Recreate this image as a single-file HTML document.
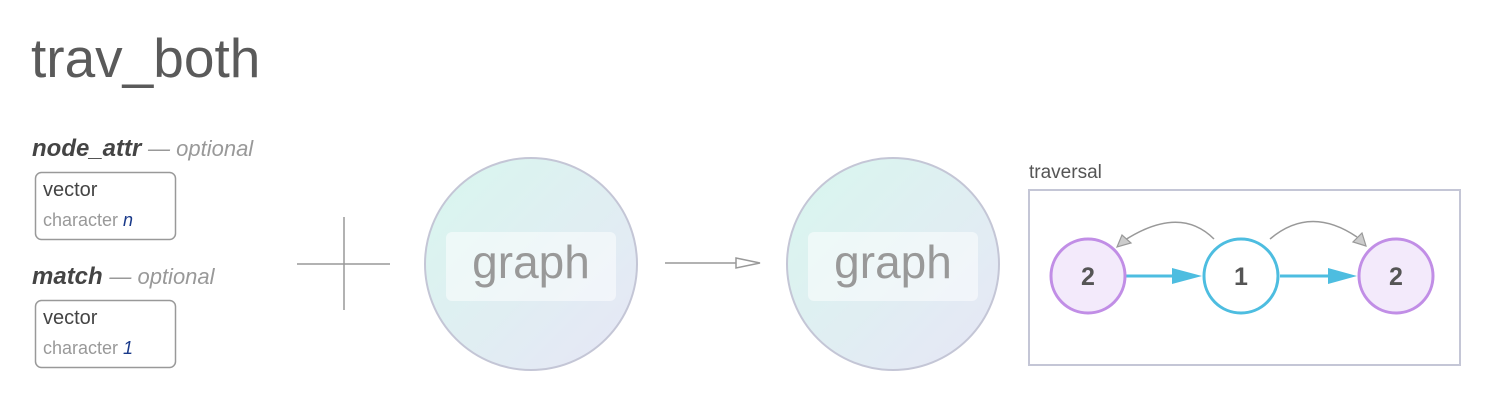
<!DOCTYPE html>
<html><head><meta charset="utf-8"><style>
body{margin:0;background:#fff;width:1510px;height:400px;overflow:hidden;font-family:"Liberation Sans",sans-serif}
</style></head><body>
<svg width="1510" height="400" xmlns="http://www.w3.org/2000/svg" font-family="Liberation Sans, sans-serif">
<defs>
<linearGradient id="g" x1="0" y1="0" x2="1" y2="1">
<stop offset="0" stop-color="#d8f7ee"/><stop offset="1" stop-color="#e7e6f6"/>
</linearGradient>
</defs>
<text x="31" y="77" font-size="55" fill="#5a5a5a">trav_both</text>

<text x="32" y="156" font-size="24" font-style="italic" font-weight="bold" fill="#444">node_attr <tspan fill="#999" font-size="22" font-weight="normal">— optional</tspan></text>
<rect x="35.5" y="172.5" width="140" height="67" rx="6" fill="#fff" stroke="#999" stroke-width="1.5"/>
<text x="43" y="196" font-size="20" fill="#444">vector</text>
<text x="43" y="226" font-size="18" fill="#999">character <tspan fill="#1a3a8a" font-style="italic">n</tspan></text>

<text x="32" y="284" font-size="24" font-style="italic" font-weight="bold" fill="#444">match <tspan fill="#999" font-size="22" font-weight="normal">— optional</tspan></text>
<rect x="35.5" y="300.5" width="140" height="67" rx="6" fill="#fff" stroke="#999" stroke-width="1.5"/>
<text x="43" y="324" font-size="20" fill="#444">vector</text>
<text x="43" y="354" font-size="18" fill="#999">character <tspan fill="#1a3a8a" font-style="italic">1</tspan></text>

<line x1="297" y1="264" x2="390" y2="264" stroke="#999" stroke-width="1.5"/>
<line x1="344" y1="217" x2="344" y2="310" stroke="#999" stroke-width="1.5"/>

<circle cx="531" cy="264" r="106" fill="url(#g)" stroke="#c4c6d6" stroke-width="2"/>
<rect x="446" y="232" width="170" height="69" rx="6" fill="#fff" fill-opacity="0.5"/>
<text x="531" y="278" font-size="46" fill="#999" text-anchor="middle">graph</text>

<line x1="665" y1="263" x2="740" y2="263" stroke="#999" stroke-width="1.5"/>
<polygon points="736,258 760,263 736,268" fill="#fff" stroke="#999" stroke-width="1.5"/>

<circle cx="893" cy="264" r="106" fill="url(#g)" stroke="#c4c6d6" stroke-width="2"/>
<rect x="808" y="232" width="170" height="69" rx="6" fill="#fff" fill-opacity="0.5"/>
<text x="893" y="278" font-size="46" fill="#999" text-anchor="middle">graph</text>

<text x="1029" y="178" font-size="19" fill="#555">traversal</text>
<rect x="1029" y="190" width="431" height="175" fill="#fff" stroke="#c4c6d6" stroke-width="2"/>

<path d="M1214 239 Q1180 205 1125 240" fill="none" stroke="#999" stroke-width="1.5"/>
<polygon points="1117,247 1122,235 1131,243" fill="#ccc" stroke="#999" stroke-width="1.2"/>
<path d="M1270 239 Q1310 205 1357 237" fill="none" stroke="#999" stroke-width="1.5"/>
<polygon points="1366,246 1353,242 1362,233" fill="#ccc" stroke="#999" stroke-width="1.2"/>

<line x1="1126" y1="276" x2="1180" y2="276" stroke="#4dbde0" stroke-width="3"/>
<polygon points="1172,268 1202,276 1172,284" fill="#4dbde0"/>
<line x1="1280" y1="276" x2="1335" y2="276" stroke="#4dbde0" stroke-width="3"/>
<polygon points="1328,268 1357,276 1328,284" fill="#4dbde0"/>

<circle cx="1088" cy="276" r="37" fill="#f3eafb" stroke="#c18ee6" stroke-width="3"/>
<text x="1088" y="285" font-size="25" font-weight="bold" fill="#555" text-anchor="middle">2</text>
<circle cx="1241" cy="276" r="37" fill="#fff" stroke="#4dbde0" stroke-width="3"/>
<text x="1241" y="285" font-size="25" font-weight="bold" fill="#555" text-anchor="middle">1</text>
<circle cx="1396" cy="276" r="37" fill="#f3eafb" stroke="#c18ee6" stroke-width="3"/>
<text x="1396" y="285" font-size="25" font-weight="bold" fill="#555" text-anchor="middle">2</text>
</svg>
</body></html>
